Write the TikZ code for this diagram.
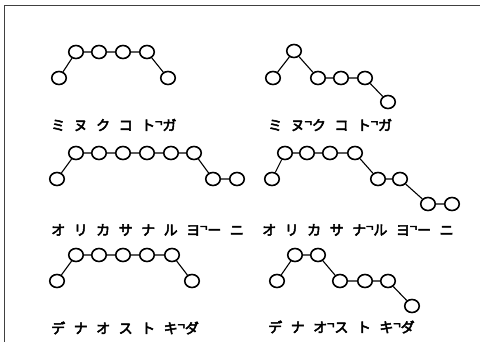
\documentclass[tikz,border=0pt]{standalone}
\usepackage{fontspec}
\usetikzlibrary{shapes.geometric}
\newfontfamily\jpfont[FakeBold=3.5]{Noto Sans CJK JP}
% gap between kana, and the downstep mark
\newcommand\gp{\hspace{8.5pt}}
\newcommand\dn{\raisebox{0.28em}{\fontsize{13}{13}\selectfont ¬}}

\begin{document}
\begin{tikzpicture}[x=1pt,y=-1pt,
  bead/.style={ellipse, draw, line width=1.6pt, minimum width=14.5pt,
               minimum height=13pt, inner sep=0pt},
  link/.style={line width=1.1pt},
  kana/.style={anchor=west, inner sep=0pt,
               font=\jpfont\fontsize{14}{14}\selectfont}]
\useasboundingbox (0,0) rectangle (480,342);

% frame
\draw[line width=1.2pt, black!75] (480,5.5) -- (4.3,5.5) -- (4.3,342);

% row 1, left
\foreach \n/\x/\y in {1/59/78, 2/76/52, 3/99/52, 4/123/52, 5/147/52, 6/168/78}
  \node[bead] (a\n) at (\x,\y) {};
\draw[link] (a1) -- (a2) -- (a3) -- (a4) -- (a5) -- (a6);
\node[kana] (ta) at (51,125) {ミ\gp ヌ\gp ク\gp コ\gp ト\dn ガ};

% row 1, right
\foreach \n/\x/\y in {1/273/78, 2/294/51, 3/318/78, 4/341/78, 5/365/78, 6/388/102}
  \node[bead] (b\n) at (\x,\y) {};
\draw[link] (b1) -- (b2) -- (b3) -- (b4) -- (b5) -- (b6);
\node[kana] (tb) at (268,125) {ミ\gp ヌ\dn ク\gp コ\gp ト\dn ガ};

% row 2, left
\foreach \n/\x/\y in {1/57/179, 2/76/153, 3/99/153, 4/123/153, 5/147/153,
                      6/171/153, 7/194/153, 8/213/179, 9/237/179}
  \node[bead] (c\n) at (\x,\y) {};
\draw[link] (c1) -- (c2) -- (c3) -- (c4) -- (c5) -- (c6) -- (c7) -- (c8) -- (c9);
\node[kana] (tc) at (51,230) {オ\gp リ\gp カ\gp サ\gp ナ\gp ル\gp ヨ\dn ー\gp ニ};

% row 2, right
\foreach \n/\x/\y in {1/272/179, 2/285/153, 3/307/153, 4/330/153, 5/355/153,
                      6/378/179, 7/400/179, 8/428/204, 9/452/204}
  \node[bead] (d\n) at (\x,\y) {};
\draw[link] (d1) -- (d2) -- (d3) -- (d4) -- (d5) -- (d6) -- (d7) -- (d8) -- (d9);
\node[kana] (td) at (262,230) {オ\gp リ\gp カ\gp サ\gp ナ\dn ル\gp ヨ\dn ー\gp ニ};

% row 3, left
\foreach \n/\x/\y in {1/57/281, 2/76/255, 3/99/255, 4/123/255, 5/147/255,
                      6/172/255, 7/192/281}
  \node[bead] (e\n) at (\x,\y) {};
\draw[link] (e1) -- (e2) -- (e3) -- (e4) -- (e5) -- (e6) -- (e7);
\node[kana] (te) at (51,328) {デ\gp ナ\gp オ\gp ス\gp ト\gp キ\dn ダ};

% row 3, right
\foreach \n/\x/\y in {1/277/281, 2/295/255, 3/318/255, 4/340/281, 5/365/281,
                      6/388/281, 7/412/306}
  \node[bead] (f\n) at (\x,\y) {};
\draw[link] (f1) -- (f2) -- (f3) -- (f4) -- (f5) -- (f6) -- (f7);
\node[kana] (tf) at (268,327) {デ\gp ナ\gp オ\dn ス\gp ト\gp キ\dn ダ};
\end{tikzpicture}
\end{document}
